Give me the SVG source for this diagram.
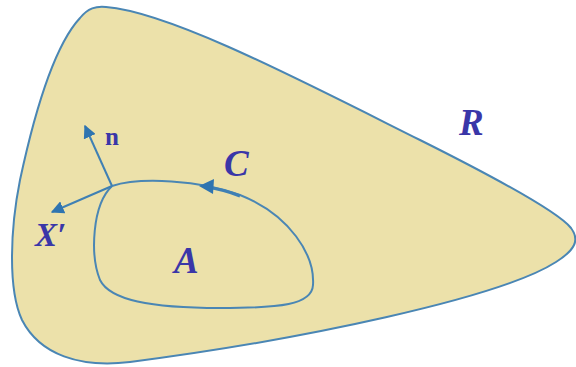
<svg xmlns="http://www.w3.org/2000/svg" width="576" height="367" viewBox="0 0 576 367">
<style>
.region{fill:#ece1aa;stroke:#4a86b4;stroke-width:2}
.curve{fill:none;stroke:#4a86b4;stroke-width:2}
.vec{fill:none;stroke:#3f80b4;stroke-width:2}
.lbl{font-family:"Liberation Serif",serif;font-style:italic;font-weight:bold;fill:#3a36a8}
.bold{font-family:"Liberation Serif",serif;font-weight:bold;fill:#3a36a8}
</style>
<defs>
<marker id="ah" viewBox="0 0 10 10" refX="9" refY="5" markerWidth="6.5" markerHeight="6.5" orient="auto" markerUnits="strokeWidth">
<path d="M0,0 L10,5 L0,10 Z" fill="#2f74b0"/>
</marker>
</defs>
<g id="R">
<path class="region" d="M 80,18 C 88,8 96,6 106,7 C 170,12 300,80 420,140 C 500,180 558,212 571,228 C 580,240 575,250 556,262 C 500,298 300,340 130,362 C 80,368 40,355 22,320 C 8,290 10,230 20,180 C 35,110 55,45 80,18 Z"/>
<text class="lbl" x="459" y="135" font-size="37">R</text>
</g>
<g id="C">
<path class="curve" d="M 112,186 C 140,177 200,180 240,195 C 290,215 315,255 313,285 C 312,305 280,308 220,308 C 150,308 110,300 100,280 C 90,255 92,205 112,186 Z"/>
<path d="M 240,196 C 225,190 213,188 206,187" fill="none" stroke="#3f80b4" stroke-width="3"/>
<path d="M 199,186 L 214,179 L 213,194 Z" fill="#2f74b0"/>
<text class="lbl" x="224" y="176" font-size="37">C</text>
</g>
<g id="A">
<text class="lbl" x="174" y="273" font-size="37">A</text>
</g>
<g id="connectors">
<path class="vec" d="M 112,186 L 85,126" marker-end="url(#ah)"/>
<path class="vec" d="M 112,186 L 52,212" marker-end="url(#ah)"/>
</g>
<g id="n">
<text class="bold" x="105" y="145" font-size="25">n</text>
</g>
<g id="Xprime">
<text class="lbl" x="35" y="246" font-size="33">X′</text>
</g>
</svg>
